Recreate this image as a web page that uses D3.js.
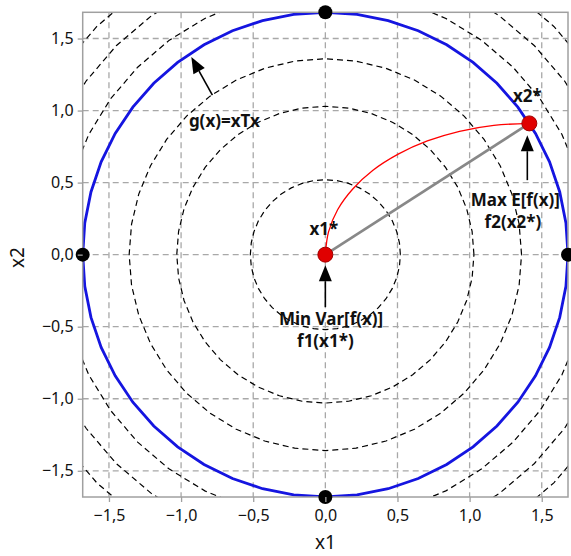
<!DOCTYPE html>
<html>
<head>
<meta charset="utf-8">
<script src="https://cdn.jsdelivr.net/npm/d3@7"></script>
<style>
  html, body { margin: 0; padding: 0; background: #fff; }
  svg { display: block; }
  text { font-family: "Noto Sans", "DejaVu Sans", sans-serif; }
</style>
</head>
<body>
<svg id="chart" width="571" height="556"></svg>
<script>
// Design region limits (alpha of the rotatable design)
const alpha = 1.682;
const xTicks = [-1.5, -1.0, -0.5, 0.0, 0.5, 1.0, 1.5];
const yTicks = [-1.5, -1.0, -0.5, 0.0, 0.5, 1.0, 1.5];

// Contour levels of the response (radius of each iso-line)
const contourRadii = [0.52, 1.03, 1.36, 1.84, 2.05, 2.24];

// Axial design points on the constraint circle
const axialX = [0, 0, alpha, -alpha];
const axialY = [alpha, -alpha, 0, 0];

// Optimum points
const x1Star = [0.0, 0.0];
const x2Star = [1.414, 0.911];

// Compromise path between the two optima
const pathX = [0.0, 0.022, 0.085, 0.19, 0.33, 0.505, 0.707, 0.93, 1.168, 1.414];
const pathY = [0.0, 0.158, 0.312, 0.456, 0.586, 0.698, 0.789, 0.856, 0.897, 0.911];

const fmt = v => d3.format(".1f")(v).replace(".", ",");

const svg = d3.select("#chart");
const m = { left: 82.7, right: 568, top: 12.3, bottom: 497 };

const x = d3.scaleLinear().domain([-alpha, alpha]).range([m.left, m.right]);
const y = d3.scaleLinear().domain([-alpha, alpha]).range([m.bottom, m.top]);

svg.append("defs").append("clipPath").attr("id", "plot-clip")
  .append("rect")
  .attr("x", m.left).attr("y", m.top)
  .attr("width", m.right - m.left).attr("height", m.bottom - m.top);

// Grid lines
const grid = svg.append("g").attr("stroke", "#a8a8a8").attr("stroke-width", 1.3)
  .attr("stroke-dasharray", "6,4");
grid.selectAll(".gx").data(xTicks).join("line")
  .attr("x1", d => x(d)).attr("x2", d => x(d))
  .attr("y1", m.top).attr("y2", m.bottom);
grid.selectAll(".gy").data(yTicks).join("line")
  .attr("y1", d => y(d)).attr("y2", d => y(d))
  .attr("x1", m.left).attr("x2", m.right);

const plot = svg.append("g").attr("clip-path", "url(#plot-clip)");

// Circle traced as a polyline through evenly spaced angles
function ring(r, n) {
  return d3.range(n + 1).map(i => {
    const a = (i / n) * 2 * Math.PI;
    return [r * Math.cos(a), r * Math.sin(a)];
  });
}
const line = d3.line().x(d => x(d[0])).y(d => y(d[1]));

// Dashed contour lines
plot.selectAll(".contour").data(contourRadii).join("path")
  .attr("d", r => line(ring(r, 40)))
  .attr("fill", "none").attr("stroke", "#000").attr("stroke-width", 1.2)
  .attr("stroke-dasharray", "6,4");

// Constraint g(x) = xTx
plot.append("path")
  .attr("d", line(ring(alpha, 48)))
  .attr("fill", "none").attr("stroke", "#1515e0").attr("stroke-width", 2.8);

// Straight connector between the optima
plot.append("line")
  .attr("x1", x(x1Star[0])).attr("y1", y(x1Star[1]))
  .attr("x2", x(x2Star[0])).attr("y2", y(x2Star[1]))
  .attr("stroke", "#888").attr("stroke-width", 2.6);

// Compromise path
plot.append("path")
  .attr("d", d3.line().curve(d3.curveCatmullRom).x((d, i) => x(pathX[i])).y((d, i) => y(pathY[i]))(pathX))
  .attr("fill", "none").attr("stroke", "#ff0000").attr("stroke-width", 1.3);

// Frame
svg.append("rect")
  .attr("x", m.left).attr("y", m.top)
  .attr("width", m.right - m.left).attr("height", m.bottom - m.top)
  .attr("fill", "none").attr("stroke", "#a0a0a0").attr("stroke-width", 1.5);

// Axial points
svg.selectAll(".axial").data(axialX).join("circle")
  .attr("cx", d => x(d)).attr("cy", (d, i) => y(axialY[i]))
  .attr("r", 7).attr("fill", "#000");

// Optimum points
svg.selectAll(".opt").data([x1Star, x2Star]).join("circle")
  .attr("cx", d => x(d[0])).attr("cy", d => y(d[1]))
  .attr("r", 7.5).attr("fill", "#e00000").attr("stroke", "#a00000").attr("stroke-width", 1);

// Axes
const xAxis = d3.axisBottom(x).tickValues(xTicks).tickFormat(fmt).tickSize(5).tickPadding(8);
const yAxis = d3.axisLeft(y).tickValues(yTicks).tickFormat(fmt).tickSize(5).tickPadding(4);
const gx = svg.append("g").attr("transform", `translate(0,${m.bottom})`).call(xAxis);
const gy = svg.append("g").attr("transform", `translate(${m.left},0)`).call(yAxis);
[gx, gy].forEach(g => {
  g.select(".domain").remove();
  g.selectAll(".tick line").attr("stroke", "#a0a0a0").attr("stroke-width", 1.3);
  g.selectAll(".tick text").attr("font-size", 16).attr("fill", "#111")
    .attr("font-family", "'Noto Sans', sans-serif");
});

svg.append("text").attr("x", x(0)).attr("y", 549).attr("text-anchor", "middle")
  .attr("font-size", 19).attr("fill", "#111").text("x1");
svg.append("text").attr("transform", `translate(24,${y(0) + 3}) rotate(-90)`)
  .attr("text-anchor", "middle").attr("font-size", 19).attr("fill", "#111").text("x2");

// Annotation arrows (tail -> tip, data coordinates)
const arrows = [
  { from: [-0.783, 1.107], to: [-0.929, 1.371] },
  { from: [1.40, 0.517], to: [1.40, 0.829] },
  { from: [0.0, -0.364], to: [0.0, -0.073] }
];
const ann = svg.append("g");
arrows.forEach(a => {
  const x0 = x(a.from[0]), y0 = y(a.from[1]), x1 = x(a.to[0]), y1 = y(a.to[1]);
  const ang = Math.atan2(y1 - y0, x1 - x0);
  const len = 16, half = 6.5;
  const bx = x1 - len * Math.cos(ang), by = y1 - len * Math.sin(ang);
  ann.append("line").attr("x1", x0).attr("y1", y0).attr("x2", bx).attr("y2", by)
    .attr("stroke", "#000").attr("stroke-width", 1.6);
  const px = -Math.sin(ang) * half, py = Math.cos(ang) * half;
  ann.append("path")
    .attr("d", `M${x1},${y1}L${bx + px},${by + py}L${bx - px},${by - py}Z`)
    .attr("fill", "#000");
});

// Annotation labels
const labels = [
  { t: "g(x)=xTx", at: [-0.70, 0.885] },
  { t: "x2*", at: [1.40, 1.058] },
  { t: "Max E[f(x)]", at: [1.317, 0.337] },
  { t: "f2(x2*)", at: [1.30, 0.184] },
  { t: "x1*", at: [-0.01, 0.135] },
  { t: "Min Var[f(x)]", at: [0.04, -0.49] },
  { t: "f1(x1*)", at: [0.0, -0.64] }
];
ann.selectAll(".lbl").data(labels).join("text")
  .attr("x", d => x(d.at[0])).attr("y", d => y(d.at[1]))
  .attr("text-anchor", "middle").attr("font-size", 17).attr("font-weight", "bold")
  .attr("fill", "#111").text(d => d.t);
</script>
</body>
</html>
